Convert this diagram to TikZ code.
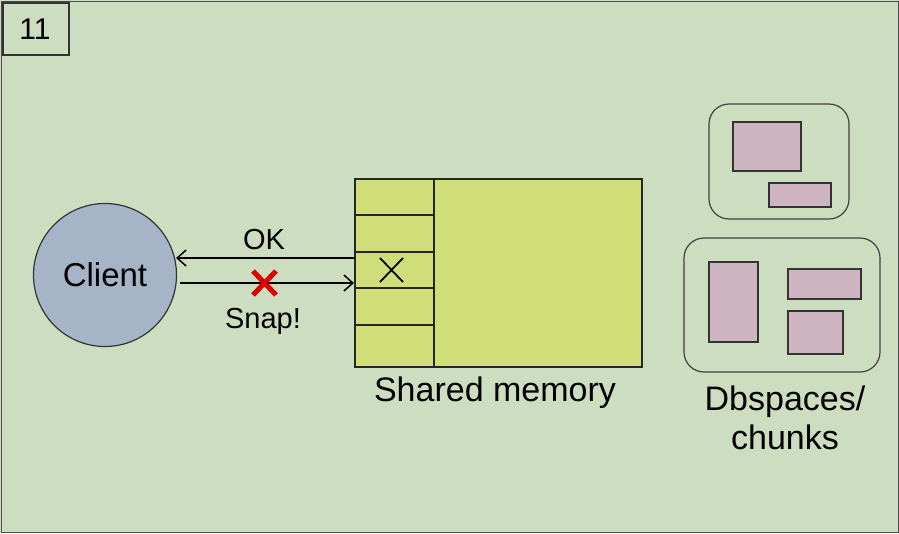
\documentclass[tikz,border=0pt]{standalone}
\usepackage{fontspec}
\setmainfont{Liberation Sans}
\usetikzlibrary{arrows.meta}
\definecolor{bg}{RGB}{204,221,192}
\definecolor{clientfill}{RGB}{166,180,200}
\definecolor{shmfill}{RGB}{207,222,120}
\definecolor{chunkfill}{RGB}{207,180,194}
\definecolor{snapred}{RGB}{220,0,0}
\tikzset{
  lbl/.style={inner sep=0pt, font=\fontsize{34}{40}\selectfont},
  smalllbl/.style={inner sep=0pt, font=\fontsize{29}{34}\selectfont},
  chunk/.style={draw=black!80, fill=chunkfill, line width=1.2pt},
  space/.style={draw=black!75, rounded corners=20pt, line width=1.2pt},
  conn/.style={line width=1.5pt, -{Straight Barb[length=9pt,width=16pt,line width=1.5pt]}},
}
\begin{document}
\begin{tikzpicture}[x=1pt,y=-1pt]
\useasboundingbox (0,0) rectangle (899,533);
\fill[bg] (0,0) rectangle (899,533);
\draw[black!70, line width=1pt] (1,1) rectangle (898,532);
% slide number
\draw[black!80, line width=1.2pt] (3,3) rectangle (69,55);
\node[inner sep=0pt, font=\fontsize{30}{34}\selectfont] (num) at (35,29) {11};
% client
\node[circle, draw=black!80, fill=clientfill, line width=1.2pt, minimum size=143pt, inner sep=0pt,
      font=\fontsize{33}{38}\selectfont] (client) at (105,275) {Client};
% shared memory
\draw[black!85, fill=shmfill, line width=1.2pt] (355,179) rectangle (642,367);
\node[inner sep=0pt, minimum width=287pt, minimum height=188pt, anchor=north west] (shm) at (355,179) {};
\draw[black!85, line width=1.2pt] (434,179) -- (434,367);
\foreach \y in {215,252,288,325} \draw[black!85, line width=1.2pt] (355,\y) -- (434,\y);
\draw[black, line width=1.8pt] (380,258) -- (403,282) (380,282) -- (403,258);
\node[lbl] (shmlabel) at (495,393) {Shared memory};
% connectors
\coordinate (okstart) at (355,258);
\coordinate (okend) at (176,258);
\coordinate (reqstart) at (180,283);
\coordinate (reqend) at (354,283);
\draw[conn] (okstart) -- (okend);
\draw[conn] (reqstart) -- (reqend);
\node[smalllbl] (ok) at (264,240) {OK};
\draw[snapred, line width=5pt] (253,271) -- (276,295) (253,295) -- (276,271);
\node[smalllbl] (snap) at (263,321) {Snap!};
% dbspaces
\draw[space] (709,104) rectangle (849,219);
\draw[chunk] (733,122) rectangle (801,171);
\draw[chunk] (769,183) rectangle (831,207);
\draw[space] (684,238) rectangle (880,372);
\draw[chunk] (709,262) rectangle (758,342);
\draw[chunk] (788,269) rectangle (861,299);
\draw[chunk] (788,311) rectangle (843,354);
\node[lbl, align=center, font=\fontsize{34}{39}\selectfont, anchor=north] (dbs) at (785,386) {Dbspaces/\\chunks};
\end{tikzpicture}
\end{document}
